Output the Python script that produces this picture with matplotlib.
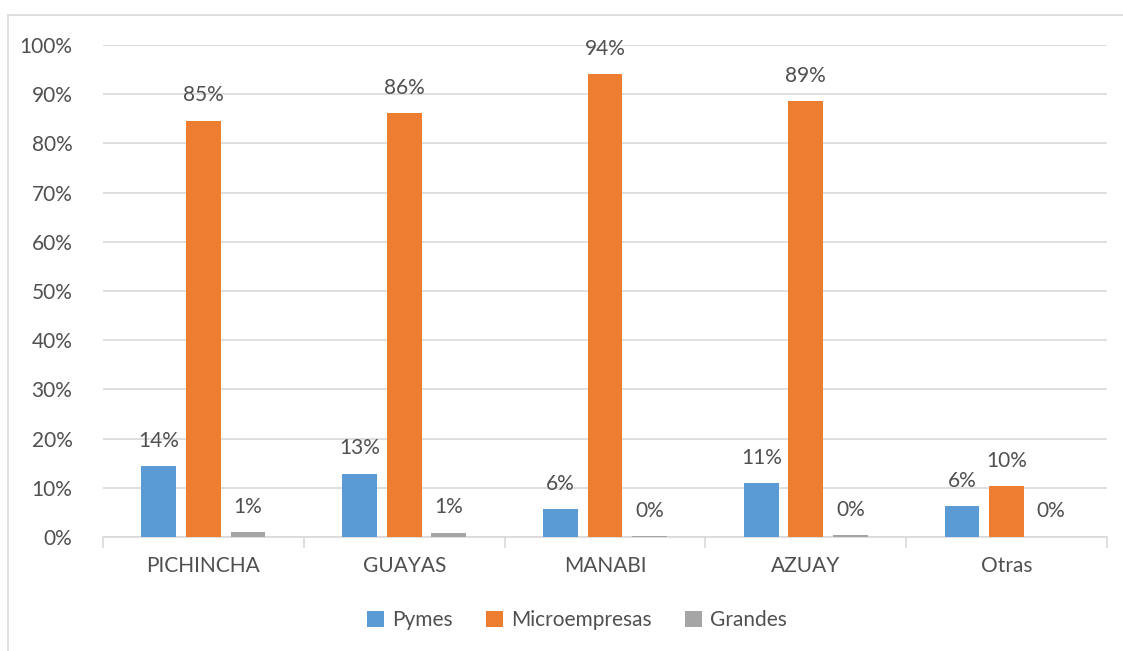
import matplotlib
matplotlib.use("Agg")
import matplotlib.pyplot as plt
from matplotlib.patches import Rectangle
import numpy as np

provinces = ["PICHINCHA", "GUAYAS", "MANABI", "AZUAY", "Otras"]
pymes = [0.144, 0.129, 0.056, 0.110, 0.062]
micro = [0.846, 0.862, 0.941, 0.886, 0.103]
grandes = [0.010, 0.009, 0.002, 0.004, 0.0005]
series_names = ["Pymes", "Microempresas", "Grandes"]
colors = ["#5B9BD5", "#ED7D31", "#A5A5A5"]
y_ticks = np.arange(0, 1.01, 0.1)

plt.rcParams["font.family"] = ["Lato", "DejaVu Sans"]
text_color = "#505050"
grid_color = "#D9D9D9"
fs = 15

fig = plt.figure(figsize=(11.23, 6.51), dpi=100)
fig.patch.set_facecolor("white")

# outer chart border (right and bottom edges fall outside the canvas)
fig.patches.append(Rectangle((8 / 1123, -0.1), 1.2, 1 - 15 / 651 + 0.1,
                             transform=fig.transFigure, fill=False,
                             edgecolor=grid_color, linewidth=1.2))

ax = fig.add_axes([103 / 1123, 1 - 537 / 651, 1004 / 1123, 492 / 651])

x = np.arange(len(provinces))
width = 0.174
step = 0.222
all_series = [pymes, micro, grandes]
for i, (vals, name, c) in enumerate(zip(all_series, series_names, colors)):
    pos = x + (i - 1) * step
    ax.bar(pos, vals, width=width, color=c, label=name, zorder=3)
    for px, v in zip(pos, vals):
        ax.annotate(f"{v:.0%}", (px, v), xytext=(0, 11), textcoords="offset points",
                    ha="center", va="bottom", fontsize=fs, color=text_color)

ax.set_xlim(-0.5, len(provinces) - 0.5)
ax.set_ylim(0, 1.0)
ax.set_yticks(y_ticks)
ax.set_yticklabels([f"{t:.0%}" for t in y_ticks], fontsize=fs, color=text_color)
ax.yaxis.grid(True, color=grid_color, linewidth=1.2, zorder=0)
ax.tick_params(axis="y", length=0, pad=22)

ax.set_xticks(x)
ax.set_xticklabels(provinces, fontsize=fs, color=text_color)
ax.tick_params(axis="x", length=0, pad=14)
# category separators below the axis
ax.set_xticks(np.arange(-0.5, len(provinces), 1.0), minor=True)
ax.tick_params(axis="x", which="minor", length=8, color=grid_color, width=1.2)

for s in ["top", "right", "left"]:
    ax.spines[s].set_visible(False)
ax.spines["bottom"].set_color(grid_color)
ax.spines["bottom"].set_linewidth(1.2)

fig.legend(loc="center", bbox_to_anchor=(577 / 1123, 1 - 620 / 651), ncol=3,
           frameon=False, fontsize=fs, labelcolor=text_color,
           handlelength=0.8, handleheight=0.8, handletextpad=0.4, columnspacing=1.6)

fig.savefig("out.png", dpi=100, facecolor="white")
